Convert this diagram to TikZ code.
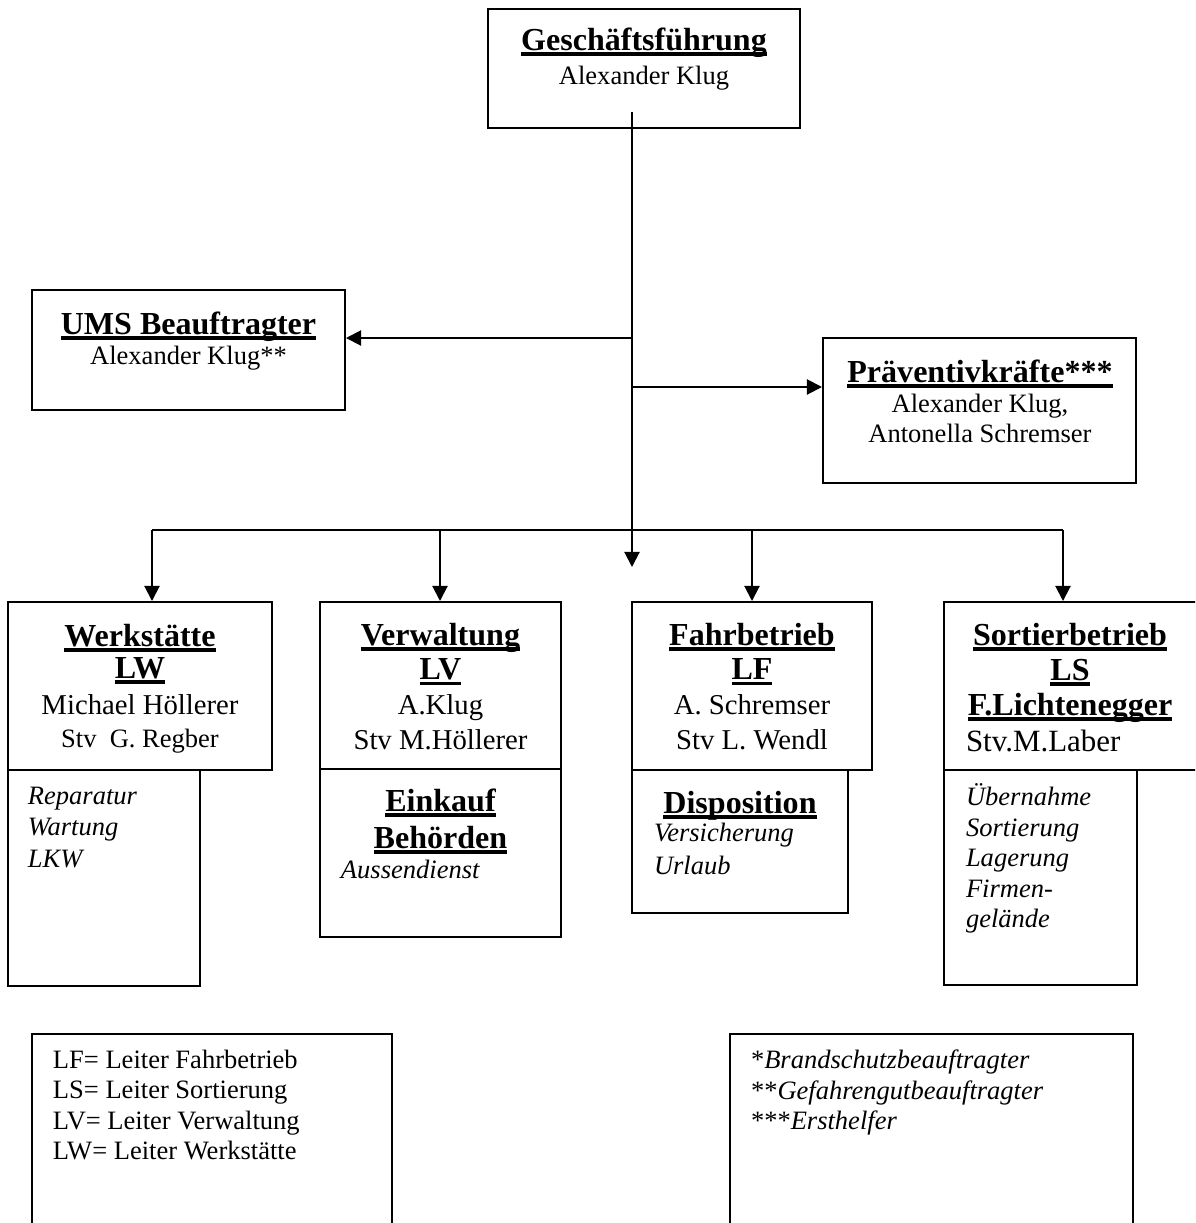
\documentclass[tikz,border=0pt]{standalone}
\usepackage{fontspec}
\setmainfont{Liberation Serif}
\usetikzlibrary{
  positioning,
  arrows.meta,
  fit,
  calc
}

\begin{document}
\begin{tikzpicture}[
    x=0.4525pt, y=-0.4525pt,
    line width=0.9pt,
    >={Triangle[length=6.8pt,width=6.8pt]},
    box/.style={
      draw=black,
      inner sep=0pt
    },
    lbl/.style={
      inner sep=0pt,
      align=center,
      anchor=north
    },
    lst/.style={
      inner sep=0pt,
      align=left,
      anchor=north west
    }
  ]
  \newcommand{\ulHead}[1]{\setbox0\hbox{#1}\rlap{\rule[-2.5pt]{\wd0}{1.7pt}}\box0}
  \newcommand{\hd}[1]{{\fontsize{14.5}{16}\selectfont\bfseries\ulHead{#1}}}
  \newcommand{\fs}[2]{\fontsize{#1}{#2}\selectfont}

  \useasboundingbox (0,0) rectangle (1195,1223);
  \clip (0,0) rectangle (1195,1223);

  % Management
  \node[box, fit={(488,9) (800,128)}] (gf) {};
  \node[lbl, font=\fs{12}{15.8}] (gftext) at (644,26.5) {\hd{Geschäftsführung}\\Alexander Klug};

  % Staff positions
  \node[box, fit={(32,290) (345,410)}] (ums) {};
  \node[lbl, font=\fs{12}{13.6}] (umstext) at (188.5,311) {\hd{UMS Beauftragter}\\Alexander Klug**};
  \node[box, fit={(823,338) (1136,483)}] (prae) {};
  \node[lbl, font=\fs{12}{13.6}] (praetext) at (980,359) {\hd{Präventivkräfte***}\\Alexander Klug,\\Antonella Schremser};

  % Departments
  \node[box, fit={(8,602) (272,770)}] (werk) {};
  \node[box, fit={(8,770) (200,986)}] (werksub) {};
  \node[lbl, font=\fs{12}{14.8}] (werktext) at (140,623) {\hd{Werkstätte}\\[-0.4pt]\hd{LW}\\[1.7pt]{\fs{13}{15}Michael Höllerer}\\Stv\ \ G. Regber};
  \node[lst, font=\fs{12}{14.2}\itshape] (werklist) at (27,786) {Reparatur\\Wartung\\LKW};

  \node[box, fit={(320,602) (561,769)}] (verw) {};
  \node[box, fit={(320,769) (561,937)}] (verwsub) {};
  \node[lbl, font=\fs{13}{15.7}] (verwtext) at (440.5,622) {\hd{Verwaltung}\\\hd{LV}\\A.Klug\\Stv M.Höllerer};
  \node[lbl, font=\fs{12}{16.7}] (verwsubtext) at (440.5,788) {\hd{Einkauf}\\\hd{Behörden}};
  \node[lst, font=\fs{12}{14}\itshape] (verwlist) at (340,859) {Aussendienst};

  \node[box, fit={(632,602) (872,770)}] (fahr) {};
  \node[box, fit={(632,770) (848,913)}] (fahrsub) {};
  \node[lbl, font=\fs{13}{15.7}] (fahrtext) at (752,622) {\hd{Fahrbetrieb}\\\hd{LF}\\A. Schremser\\Stv L. Wendl};
  \node[lbl] (fahrsubtext) at (740,790) {\hd{Disposition}};
  \node[lst, font=\fs{12}{15}\itshape] (fahrlist) at (653,822) {Versicherung\\Urlaub};

  \node[box, fit={(944,602) (1200,770)}] (sort) {};
  \node[box, fit={(944,770) (1137,985)}] (sortsub) {};
  \node[lbl, font=\fs{12}{15.8}] (sorttext) at (1070,622) {\hd{Sortierbetrieb}\\\hd{LS}\\\hd{F.Lichtenegger}};
  \node[lst, font=\fs{14}{16}] (sortdep) at (965,729) {Stv.M.Laber};
  \node[lst, font=\fs{12}{13.8}\itshape] (sortlist) at (965,783) {Übernahme\\Sortierung\\Lagerung\\Firmen-\\gelände};

  % Legend
  \node[box, fit={(32,1034) (392,1250)}] (abbr) {};
  \node[lst, font=\fs{12}{13.8}] (abbrtext) at (52,1049) {LF= Leiter Fahrbetrieb\\LS= Leiter Sortierung\\LV= Leiter Verwaltung\\LW= Leiter Werkstätte};
  \node[box, fit={(730,1034) (1133,1250)}] (notes) {};
  \node[lst, font=\fs{12}{13.8}] (notestext) at (750,1049) {*\textit{Brandschutzbeauftragter}\\**\textit{Gefahrengutbeauftragter}\\***\textit{Ersthelfer}};

  % Connections
  \coordinate (gfout) at (632,112);
  \coordinate (trunkend) at (632,567);
  \coordinate (umsjoin) at (632,338);
  \coordinate (praejoin) at (632,387);
  \coordinate (b1) at (152,530);
  \coordinate (b2) at (440,530);
  \coordinate (b3) at (752,530);
  \coordinate (b4) at (1063,530);

  \draw[->] (gfout) -- (trunkend);
  \draw[->] (umsjoin) -- (umsjoin -| ums.east);
  \draw[->] (praejoin) -- (praejoin -| prae.west);
  \draw (b1) -- (b4);
  \draw[->] (b1) -- (b1 |- werk.north);
  \draw[->] (b2) -- (b2 |- verw.north);
  \draw[->] (b3) -- (b3 |- fahr.north);
  \draw[->] (b4) -- (b4 |- sort.north);
\end{tikzpicture}
\end{document}
